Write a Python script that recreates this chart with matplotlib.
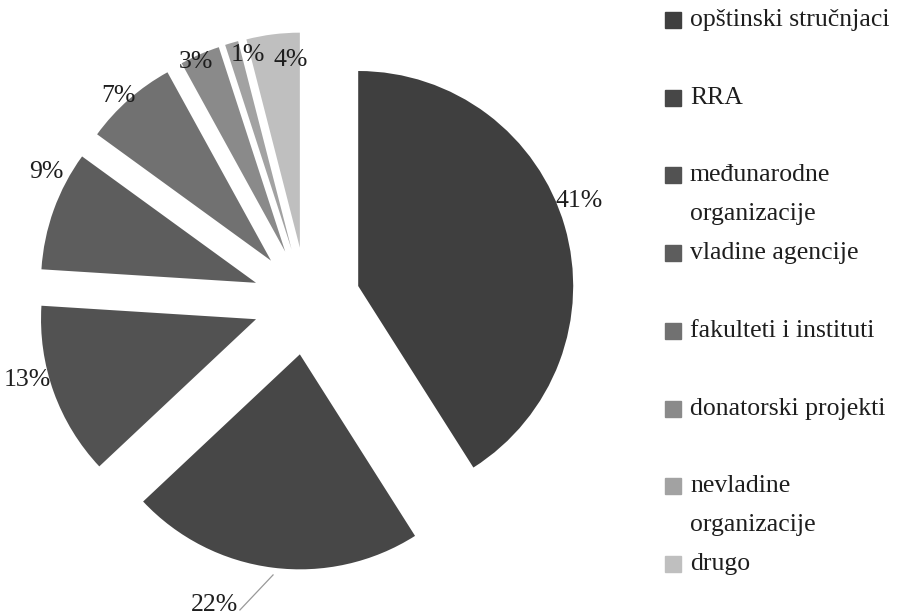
import matplotlib
matplotlib.use("Agg")
import matplotlib.pyplot as plt
from matplotlib.patches import Rectangle

# podaci
kategorije = [
    "opštinski stručnjaci",
    "RRA",
    "međunarodne\norganizacije",
    "vladine agencije",
    "fakulteti i instituti",
    "donatorski projekti",
    "nevladine\norganizacije",
    "drugo",
]
procenti = [41, 22, 13, 9, 7, 3, 1, 4]
boje = ["#3f3f3f", "#474747", "#525252", "#5d5d5d",
        "#717171", "#8a8a8a", "#a2a2a2", "#bfbfbf"]

# položaji natpisa (u jedinicama poluprečnika)
pozicije_natpisa = [
    (1.267, 0.465), (-0.43, -1.414), (-1.30, -0.367), (-1.212, 0.60),
    (-0.877, 0.953), (-0.514, 1.112), (-0.272, 1.145), (-0.072, 1.121),
]

plt.rcParams["font.family"] = ["Liberation Serif", "DejaVu Serif"]

fig = plt.figure(figsize=(9.12, 6.16), dpi=100)
ax = fig.add_axes([0, 0, 1, 1])

wedges, _ = ax.pie(
    procenti,
    colors=boje,
    startangle=90,
    counterclock=False,
    explode=[0.25] * len(procenti),
    radius=1.0,
    wedgeprops={"linewidth": 0},
)

for (x, y), p in zip(pozicije_natpisa, procenti):
    ax.text(x, y, f"{p}%", ha="center", va="center", fontsize=18.5, color="#1e1e1e")

# linija za 22%
ax.plot([-0.31, -0.156], [-1.437, -1.274], color="#999999", lw=0.9)

ax.set_xlim(-1.426, 2.816)
ax.set_ylim(-1.465, 1.400)
ax.set_aspect("auto")
ax.axis("off")

# legenda
x0, y_prvi, korak = 665, 20, 77.7
for i, (naziv, boja) in enumerate(zip(kategorije, boje)):
    yc = y_prvi + korak * i
    fig.patches.append(Rectangle((x0 / 912, 1 - (yc + 8) / 616), 16 / 912, 16 / 616,
                                 transform=fig.transFigure, color=boja))
    linije = naziv.split("\n")
    for j, linija in enumerate(linije):
        fig.text(690 / 912, 1 - (yc + 38.5 * j) / 616, linija, ha="left", va="center",
                 fontsize=18.5, color="#1e1e1e")

fig.savefig("out.png", dpi=100)
